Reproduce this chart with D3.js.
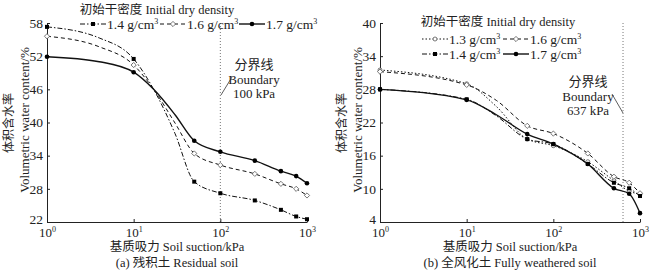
<!DOCTYPE html>
<html><head><meta charset="utf-8">
<script src="https://cdn.jsdelivr.net/npm/d3@7"></script>
<style>
body{margin:0;background:#fff;}
svg{display:block;font-family:"Liberation Serif","Noto Sans CJK SC",serif;}
</style></head>
<body><svg id="c" width="654" height="278"></svg>
<script>
// ---------- DATA ----------
// Panel (a) residual soil
const suctionA = [1, 4, 10, 17, 30, 50, 100, 250, 500, 750, 1000];
const measuredA = [1, 10, 50, 100, 250, 500, 750, 1000];
const a14 = [57.3, 55.3, 51.5, 46.0, 38.0, 29.3, 27.2, 25.9, 24.2, 23.0, 22.5];
const a16 = [55.6, 53.7, 50.4, 46.0, 39.9, 34.4, 32.3, 30.7, 28.9, 28.0, 26.8];
const a17 = [51.9, 51.0, 49.1, 46.0, 41.4, 36.7, 34.7, 33.1, 31.2, 30.3, 29.0];
// Panel (b) fully weathered soil
const suctionB = [1, 10, 22, 50, 100, 250, 500, 750, 1000];
const measuredB = [1, 10, 50, 100, 250, 500, 750, 1000];
const b13 = [31.5, 29.0, 24.9, 19.0, 17.8, 14.9, 11.5, 9.6, 9.0];
const b16 = [31.2, 28.8, 26.0, 21.4, 20.0, 16.4, 12.2, 11.1, 9.2];
const b14 = [28.0, 26.2, 23.2, 19.0, 18.1, 14.5, 11.1, 10.1, 8.7];
const b17 = [28.0, 26.1, 23.4, 19.9, 18.1, 14.5, 10.1, 9.1, 5.6];
const xTicks = [1, 10, 100, 1000];
const yTicksA = [22, 28, 34, 40, 46, 52, 58];
const yTicksB = [4, 10, 16, 22, 28, 34, 40];
const boundaryA = 100, boundaryB = 637;

// ---------- STYLES ----------
const styles = {
  "1.3": {dash: "1.5,2", marker: "circleOpen", w: 1},
  "1.4": {dash: "5,2,1.5,2", marker: "square", w: 1},
  "1.6": {dash: "4,3", marker: "diamond", w: 1},
  "1.7": {dash: null, marker: "circle", w: 1.4}
};

const svg = d3.select("#c");

function marker(g, type, x, y) {
  if (type === "square") g.append("rect").attr("x", x-2).attr("y", y-2).attr("width", 4).attr("height", 4).attr("fill", "#000");
  else if (type === "circle") g.append("circle").attr("cx", x).attr("cy", y).attr("r", 2.3).attr("fill", "#000");
  else if (type === "circleOpen") g.append("circle").attr("cx", x).attr("cy", y).attr("r", 2).attr("fill", "#fff").attr("stroke", "#555").attr("stroke-width", 0.8);
  else if (type === "diamond") g.append("path").attr("d", `M${x},${y-2.6}L${x+2.6},${y}L${x},${y+2.6}L${x-2.6},${y}Z`).attr("fill", "#fff").attr("stroke", "#555").attr("stroke-width", 0.8);
}

function panel(opt) {
  const x = d3.scaleLog().domain([1, 1000]).range([opt.x0, opt.x0 + 260]);
  const y = d3.scaleLinear().domain(opt.yDomain).range([222, 23]);
  const g = svg.append("g");

  // boundary line
  g.append("line").attr("x1", x(opt.boundary)).attr("x2", x(opt.boundary))
    .attr("y1", 23).attr("y2", 222).attr("stroke", "#666").attr("stroke-width", 0.9).attr("stroke-dasharray", "1,2");

  // axes
  const ay = g.append("g").attr("transform", `translate(${opt.x0},0)`)
    .call(d3.axisLeft(y).tickValues(opt.yTicks).tickSizeInner(-3).tickSizeOuter(0).tickPadding(4).tickFormat(d3.format("d")));
  const ax = g.append("g").attr("transform", `translate(0,222)`)
    .call(d3.axisBottom(x).tickValues(xTicks).tickSizeInner(-3).tickSizeOuter(0).tickPadding(5).tickFormat(""));
  [ay, ax].forEach(a => {
    a.select(".domain").attr("stroke", "#222").attr("stroke-width", 1);
    a.selectAll("line").attr("stroke", "#222");
    a.selectAll("text").attr("font-size", 13.5).attr("fill", "#222").attr("font-family", "Liberation Serif");
  });
  ay.selectAll(".tick text").attr("dy", (d, i) => i === 0 ? "0.1em" : "0.32em");
  ax.selectAll(".tick").append("text").attr("y", 15).attr("text-anchor", "middle")
    .attr("font-size", 13).attr("fill", "#222").attr("font-family", "Liberation Serif")
    .each(function(d) {
      const t = d3.select(this);
      t.append("tspan").text("10");
      t.append("tspan").attr("font-size", 8).attr("dy", -5).text(Math.round(Math.log10(d)));
    });

  // series
  opt.series.forEach(s => {
    const st = styles[s.name];
    const pts = opt.suction.map((v, i) => [x(v), y(s.values[i])]);
    g.append("path").attr("d", d3.line().curve(d3.curveMonotoneX)(pts))
      .attr("fill", "none").attr("stroke", "#111").attr("stroke-width", st.w)
      .attr("stroke-dasharray", st.dash);
  });
  opt.series.forEach(s => {
    const st = styles[s.name];
    opt.suction.forEach((v, i) => {
      if (opt.measured.includes(v)) marker(g, st.marker, x(v), y(s.values[i]));
    });
  });

  // axis labels
  const cx = opt.x0 + 130;
  g.append("text").attr("x", cx).attr("y", 251).attr("text-anchor", "middle").attr("font-size", 12.5).attr("fill", "#222")
    .text("基质吸力 Soil suction/kPa");
  g.append("text").attr("x", cx).attr("y", 267).attr("text-anchor", "middle").attr("font-size", 12.5).attr("fill", "#222")
    .text(opt.caption);
  const lx = opt.x0 - 38, ly = 123;
  g.append("text").attr("transform", `translate(${lx},${ly}) rotate(-90)`).attr("text-anchor", "middle")
    .attr("dominant-baseline", "central").attr("font-size", 12).attr("fill", "#222").text("体积含水率");
  g.append("text").attr("transform", `translate(${opt.x0 - 23},120) rotate(-90)`).attr("text-anchor", "middle")
    .attr("dominant-baseline", "central").attr("font-size", 13).attr("fill", "#222").text("Volumetric water content/%");

  // boundary annotation
  const bx = opt.annX;
  [["分界线", opt.annY], ["Boundary", opt.annY + 15], [opt.annKpa, opt.annY + 29]].forEach(([t, yy]) => {
    g.append("text").attr("x", bx).attr("y", yy).attr("text-anchor", "middle").attr("font-size", 13).attr("fill", "#222").text(t);
  });
  g.append("line").attr("x1", opt.lead[0]).attr("y1", opt.lead[1]).attr("x2", opt.lead[2]).attr("y2", opt.lead[3])
    .attr("stroke", "#333").attr("stroke-width", 0.8);

  // legend
  g.append("text").attr("x", opt.legTitle[0]).attr("y", opt.legTitle[1]).attr("text-anchor", "middle")
    .attr("font-size", 12.5).attr("fill", "#222").text("初始干密度 Initial dry density");
  opt.legend.forEach(([name, lx0, ly0]) => {
    const st = styles[name];
    g.append("line").attr("x1", lx0).attr("x2", lx0 + 26).attr("y1", ly0).attr("y2", ly0)
      .attr("stroke", "#111").attr("stroke-width", st.w).attr("stroke-dasharray", st.dash);
    marker(g, st.marker, lx0 + 13, ly0);
    const t = g.append("text").attr("x", lx0 + 27).attr("y", ly0 + 4.5).attr("font-size", 13.5).attr("fill", "#222");
    t.append("tspan").text(name + " g/cm");
    t.append("tspan").attr("font-size", 8).attr("dy", -5).text("3");
  });
}

panel({
  x0: 47, yDomain: [22, 58], yTicks: yTicksA, boundary: boundaryA,
  suction: suctionA, measured: measuredA,
  series: [{name: "1.4", values: a14}, {name: "1.6", values: a16}, {name: "1.7", values: a17}],
  caption: "(a) 残积土 Residual soil",
  annX: 254, annY: 69, annKpa: "100 kPa", lead: [221, 95, 232, 77],
  legTitle: [157, 14],
  legend: [["1.4", 80, 24], ["1.6", 160, 24], ["1.7", 239, 24]]
});
panel({
  x0: 380, yDomain: [4, 40], yTicks: yTicksB, boundary: boundaryB,
  suction: suctionB, measured: measuredB,
  series: [{name: "1.3", values: b13}, {name: "1.6", values: b16}, {name: "1.4", values: b14}, {name: "1.7", values: b17}],
  caption: "(b) 全风化土 Fully weathered soil",
  annX: 588, annY: 86, annKpa: "637 kPa", lead: [612, 94, 623, 113],
  legTitle: [498, 26],
  legend: [["1.3", 422, 39], ["1.6", 503, 39], ["1.4", 422, 54], ["1.7", 503, 54]]
});
</script></body></html>
